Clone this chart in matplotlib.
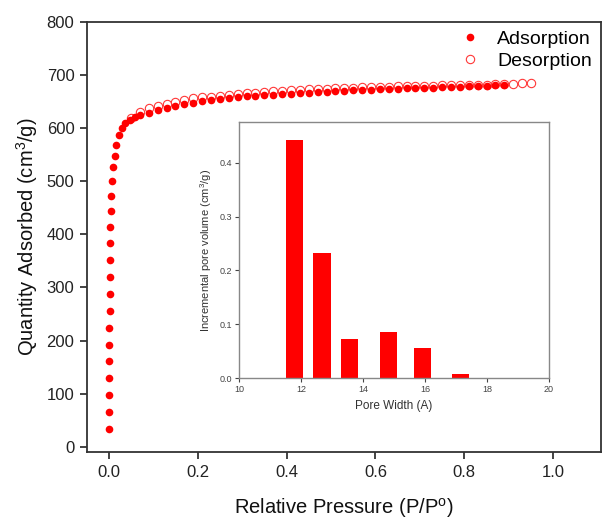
import matplotlib
matplotlib.use("Agg")
import matplotlib.pyplot as plt

plt.rcParams['font.family'] = ['Liberation Sans', 'DejaVu Sans']
plt.rcParams['mathtext.fontset'] = 'custom'
plt.rcParams['mathtext.rm'] = 'Liberation Sans'
plt.rcParams['mathtext.it'] = 'Liberation Sans:italic'

# adsorption branch (P/P0, cm3/g)
ads_p = [0.00001, 0.00003, 0.00006, 0.0001, 0.0004, 0.0007, 0.0012, 0.0017,
         0.0022, 0.0025, 0.003, 0.0033, 0.0037, 0.0045, 0.0052, 0.0067,
         0.0097, 0.0135, 0.0172, 0.0225, 0.030, 0.0375, 0.047, 0.058, 0.071,
         0.09, 0.11, 0.13, 0.15, 0.17, 0.19, 0.21, 0.23, 0.25, 0.27, 0.29,
         0.31, 0.33, 0.35, 0.37, 0.39, 0.41, 0.43, 0.45, 0.47, 0.49, 0.51,
         0.53, 0.55, 0.57, 0.59, 0.61, 0.63, 0.65, 0.67, 0.69, 0.71, 0.73,
         0.75, 0.77, 0.79, 0.81, 0.83, 0.85, 0.87, 0.89]
ads_q = [33, 66, 98, 129, 161, 192, 224, 255,
         287, 319, 351, 383, 414, 444, 473, 501,
         526, 548, 569, 587, 600, 609, 616, 620, 624,
         629, 634, 638, 642, 645, 648, 651, 653, 655, 657, 658,
         660, 661, 662, 663, 664, 665, 666, 667, 668, 668, 669,
         670, 671, 671, 672, 673, 673, 674, 675, 675, 676, 676,
         677, 678, 678, 679, 679, 680, 681, 682]

# desorption branch
des_p = [0.05, 0.07, 0.09, 0.11, 0.13, 0.15, 0.17, 0.19, 0.21, 0.23, 0.25,
         0.27, 0.29, 0.31, 0.33, 0.35, 0.37, 0.39, 0.41, 0.43, 0.45, 0.47,
         0.49, 0.51, 0.53, 0.55, 0.57, 0.59, 0.61, 0.63, 0.65, 0.67, 0.69,
         0.71, 0.73, 0.75, 0.77, 0.79, 0.81, 0.83, 0.85, 0.87, 0.89, 0.91,
         0.93, 0.95]
des_q = [619, 630, 637, 642, 646, 650, 653, 656, 658, 659, 661,
         663, 664, 666, 667, 668, 669, 670, 671, 672, 673, 674,
         674, 675, 676, 676, 677, 677, 678, 678, 679, 679, 680,
         680, 680, 681, 681, 681, 682, 682, 682, 683, 683, 683,
         684, 684]

# pore size distribution (inset)
pore_width = [11.78, 12.67, 13.57, 14.82, 15.90, 17.14]
pore_volume = [0.442, 0.232, 0.072, 0.086, 0.056, 0.007]

fig = plt.figure(figsize=(6.02, 5.21), dpi=100)
ax = fig.add_axes([0.1445, 0.1324, 0.8535, 0.8256])

ax.plot(ads_p, ads_q, 'o', color='#ff0000', markersize=5.5, markeredgewidth=0,
        label='Adsorption', zorder=3)
ax.plot(des_p, des_q, 'o', markerfacecolor='none', markeredgecolor='#ff3838',
        markersize=6, markeredgewidth=0.8, label='Desorption', zorder=2)

ax.set_xlim(-0.049, 1.107)
ax.set_ylim(-10, 797)
ax.set_xticks([0.0, 0.2, 0.4, 0.6, 0.8, 1.0])
ax.set_xticklabels(['0.0', '0.2', '0.4', '0.6', '0.8', '1.0'])
ax.set_yticks(range(0, 801, 100))
ax.tick_params(direction='out', length=5, width=1.2, labelsize=12,
               colors='#222222', pad=4)
for s in ax.spines.values():
    s.set_color('#333333')
    s.set_linewidth(1.3)

ax.set_xlabel('Relative Pressure (P/P$^{\\mathrm{o}}$)', fontsize=14.5,
              color='#111111', labelpad=12)
ax.set_ylabel('Quantity Adsorbed (cm$^{\\mathrm{3}}$/g)', fontsize=14.5,
              color='#111111', labelpad=5)

ax.legend(loc='upper right', frameon=False, fontsize=14, handletextpad=0.4,
          borderaxespad=0.05, labelspacing=0.2, markerscale=1.0)

# inset
ins = fig.add_axes([0.3975, 0.274, 0.5145, 0.4925])
ins.bar(pore_width, pore_volume, width=0.55, color='#ff0000')
ins.set_xlim(10, 20)
ins.set_ylim(0, 0.476)
ins.set_xticks([10, 12, 14, 16, 18, 20])
ins.set_yticks([0.0, 0.1, 0.2, 0.3, 0.4])
ins.set_yticklabels(['0.0', '0.1', '0.2', '0.3', '0.4'])
ins.tick_params(direction='out', length=3, width=0.8, labelsize=6.5,
                colors='#444444', pad=2)
for s in ins.spines.values():
    s.set_color('#888888')
    s.set_linewidth(1.0)
ins.set_xlabel('Pore Width (A)', fontsize=8.5, color='#333333', labelpad=4)
ins.set_ylabel('Incremental pore volume (cm$^{\\mathrm{3}}$/g)', fontsize=8,
               color='#333333', labelpad=4)

fig.savefig('out.png', dpi=100)
